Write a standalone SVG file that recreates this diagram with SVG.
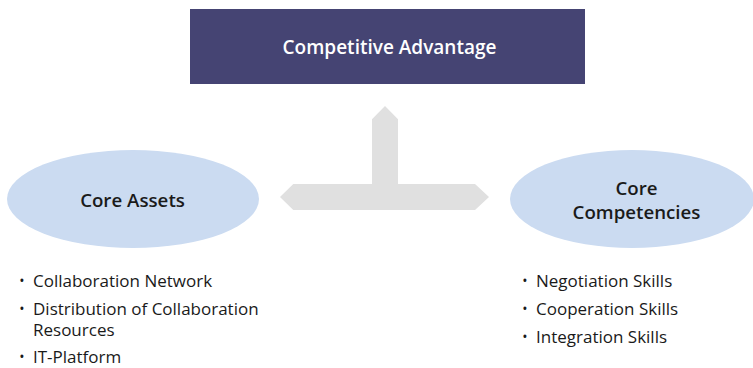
<svg xmlns="http://www.w3.org/2000/svg" width="753" height="368" viewBox="0 0 753 368">
<style>
.title{font-family:"Open Sans","Noto Sans",sans-serif;font-weight:600;font-size:19px;fill:#ffffff;text-anchor:middle}
.lbl{font-family:"Open Sans","Noto Sans",sans-serif;font-weight:600;font-size:18.7px;fill:#1a1a1a;text-anchor:middle}
.item{font-family:"Open Sans","Noto Sans",sans-serif;font-size:17px;fill:#1a1a1a}
.bul{font-family:"Open Sans","Noto Sans",sans-serif;font-size:14px;fill:#1a1a1a;text-anchor:middle}
.ell{fill:#cbdbf1}
.arrow{fill:#e0e0e0}
</style>
<rect width="753" height="368" fill="#ffffff"/>
<g id="connectors">
<polygon class="arrow" points="385,106 398,119.3 398,184 475,184 489,197 475,210 293.3,210 280,197 293.3,184 372,184 372,119.3"/>
</g>
<g id="competitive-advantage">
<rect x="190" y="9" width="395" height="75" fill="#454473"/>
<text class="title" x="389.5" y="54">Competitive Advantage</text>
</g>
<g id="core-assets">
<ellipse class="ell" cx="133" cy="199" rx="126" ry="49"/>
<text class="lbl" x="132.5" y="206.5">Core Assets</text>
</g>
<g id="core-competencies">
<ellipse class="ell" cx="632" cy="199" rx="122" ry="49"/>
<text class="lbl" x="636.5" y="195">Core</text>
<text class="lbl" x="636.5" y="218.5">Competencies</text>
</g>
<g id="core-assets-list">
<text class="bul" x="22" y="286">•</text><text class="item" x="33" y="287">Collaboration Network</text>
<text class="bul" x="22" y="314">•</text><text class="item" x="33" y="315">Distribution of Collaboration</text>
<text class="item" x="33" y="336">Resources</text>
<text class="bul" x="22" y="362">•</text><text class="item" x="33" y="363">IT-Platform</text>
</g>
<g id="core-competencies-list">
<text class="bul" x="525" y="286">•</text><text class="item" x="536" y="287">Negotiation Skills</text>
<text class="bul" x="525" y="314">•</text><text class="item" x="536" y="315">Cooperation Skills</text>
<text class="bul" x="525" y="342">•</text><text class="item" x="536" y="343">Integration Skills</text>
</g>
</svg>
